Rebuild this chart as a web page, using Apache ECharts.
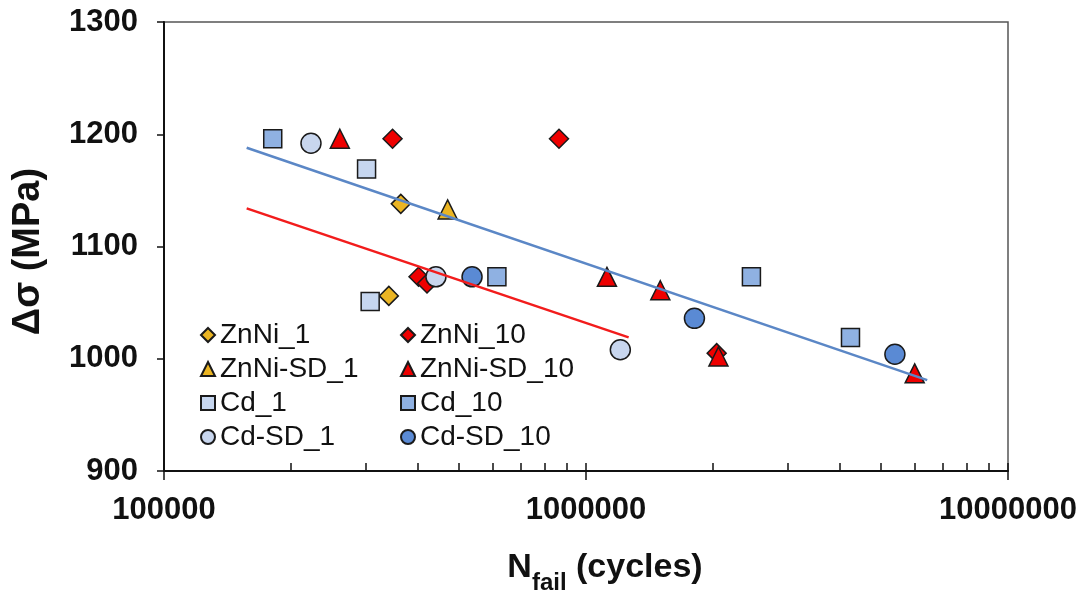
<!DOCTYPE html>
<html>
<head>
<meta charset="utf-8">
<script src="https://cdn.jsdelivr.net/npm/echarts@6/dist/echarts.min.js"></script>
<style>
  html, body { margin: 0; padding: 0; background: #fff; }
  #chart { width: 1084px; height: 595px; }
</style>
</head>
<body>
<div id="chart"></div>
<script>
// data: [cycles to failure, stress range MPa]
const ZnNi_1 = [[364000, 1138], [341000, 1056]];
const ZnNi_10 = [[348000, 1196], [863000, 1196], [401000, 1073], [420000, 1067], [2040000, 1005]];
const ZnNiSD_1 = [[470000, 1133]];
const ZnNiSD_10 = [[261000, 1196], [1121000, 1073], [1500000, 1061], [2060000, 1002], [6010000, 987]];
const Cd_1 = [[302000, 1169], [308000, 1051]];
const Cd_10 = [[181000, 1196], [615000, 1073], [2466000, 1073], [4234000, 1019]];
const CdSD_1 = [[223000, 1192], [441000, 1073], [1206000, 1008]];
const CdSD_10 = [[537000, 1073], [1807000, 1036], [5395000, 1004]];

// trend lines (end points)
const trendBlue = [[157000, 1188], [6436000, 981]];
const trendRed = [[157000, 1134], [1262000, 1019]];

// minor tick positions on the log axis
const xMinorTicks = [
  100000, 200000, 300000, 400000, 500000, 600000, 700000, 800000, 900000,
  1000000, 2000000, 3000000, 4000000, 5000000, 6000000, 7000000, 8000000, 9000000, 10000000
];

const font = "'Liberation Sans', Arial, sans-serif";
const edge = { borderColor: '#1a1a1a', borderWidth: 1.5 };

function pts(name, data, symbol, size, color) {
  return {
    name: name,
    type: 'scatter',
    data: data,
    symbol: symbol,
    symbolSize: size,
    itemStyle: Object.assign({ color: color, opacity: 1 }, edge),
    z: 3
  };
}

const chart = echarts.init(document.getElementById('chart'));

const legendText = { fontSize: 28, color: '#111', fontFamily: font };

const option = {
  animation: false,
  backgroundColor: '#fff',
  textStyle: { fontFamily: font },
  grid: {
    left: 164, right: 76, top: 22, bottom: 124,
    outerBoundsMode: 'none', containLabel: false,
    show: true, borderColor: '#555', borderWidth: 1.5
  },
  legend: [
    {
      data: ['ZnNi_1', 'ZnNi-SD_1', 'Cd_1', 'Cd-SD_1'],
      orient: 'vertical', left: 195, top: 316,
      itemWidth: 14, itemHeight: 14, itemGap: 6,
      selectedMode: false,
      textStyle: legendText
    },
    {
      data: ['ZnNi_10', 'ZnNi-SD_10', 'Cd_10', 'Cd-SD_10'],
      orient: 'vertical', left: 395, top: 316,
      itemWidth: 14, itemHeight: 14, itemGap: 6,
      selectedMode: false,
      textStyle: legendText
    }
  ],
  xAxis: [
    {
      type: 'log', logBase: 10, min: 100000, max: 10000000,
      position: 'bottom',
      name: '{n|N}{s|fail}{n| (cycles)}',
      nameLocation: 'middle', nameGap: 80,
      nameTextStyle: {
        padding: [0, 0, 0, 38],
        rich: {
          n: { fontSize: 34, lineHeight: 34, fontWeight: 'bold', color: '#111', fontFamily: font, verticalAlign: 'top' },
          s: { fontSize: 24, lineHeight: 24, fontWeight: 'bold', color: '#111', fontFamily: font, verticalAlign: 'top', padding: [20, 0, 0, 0] }
        }
      },
      axisLine: { lineStyle: { color: '#111', width: 2 } },
      axisTick: { show: true, inside: false, length: 9, lineStyle: { color: '#111', width: 1.5 } },
      splitLine: { show: false },
      axisLabel: {
        margin: 24, fontSize: 31, fontWeight: 'bold', color: '#111', fontFamily: font,
        formatter: v => String(Math.round(v))
      }
    },
    {
      type: 'log', logBase: 10, min: 100000, max: 10000000,
      position: 'bottom', offset: 0,
      axisLine: { show: false },
      axisTick: { show: true, inside: true, length: 8, customValues: xMinorTicks, lineStyle: { color: '#111', width: 1.5 } },
      axisLabel: { show: false },
      splitLine: { show: false }
    }
  ],
  yAxis: {
    type: 'value', min: 900, max: 1300, interval: 100,
    name: 'Δσ (MPa)',
    nameLocation: 'middle', nameRotate: 90, nameGap: 116,
    nameTextStyle: { fontSize: 38, fontWeight: 'bold', color: '#111', fontFamily: font, padding: [0, 10, 0, 0] },
    axisLine: { show: true, lineStyle: { color: '#111', width: 2 } },
    axisTick: { show: true, inside: false, length: 7, lineStyle: { color: '#111', width: 1.5 } },
    splitLine: { show: false },
    axisLabel: {
      margin: 26, fontSize: 31, fontWeight: 'bold', color: '#111', fontFamily: font,
      formatter: v => String(v)
    }
  },
  series: [
    pts('ZnNi_1', ZnNi_1, 'diamond', 19, '#EBB523'),
    pts('ZnNi_10', ZnNi_10, 'diamond', 19, '#EE0000'),
    pts('ZnNi-SD_1', ZnNiSD_1, 'triangle', 19, '#EBB523'),
    pts('ZnNi-SD_10', ZnNiSD_10, 'triangle', 19, '#EE0000'),
    pts('Cd_1', Cd_1, 'rect', 18, '#C6D6EF'),
    pts('Cd_10', Cd_10, 'rect', 18, '#8FB1E2'),
    pts('Cd-SD_1', CdSD_1, 'circle', 20, '#C8D6EE'),
    pts('Cd-SD_10', CdSD_10, 'circle', 20, '#5A8AD4'),
    {
      name: 'trend Cd', type: 'line', data: trendBlue, symbol: 'none',
      lineStyle: { color: '#5B87C6', width: 2.5 }, z: 4, silent: true
    },
    {
      name: 'trend ZnNi', type: 'line', data: trendRed, symbol: 'none',
      lineStyle: { color: '#F21C1C', width: 2.5 }, z: 4, silent: true
    }
  ]
};

option && chart.setOption(option);
</script>
</body>
</html>
